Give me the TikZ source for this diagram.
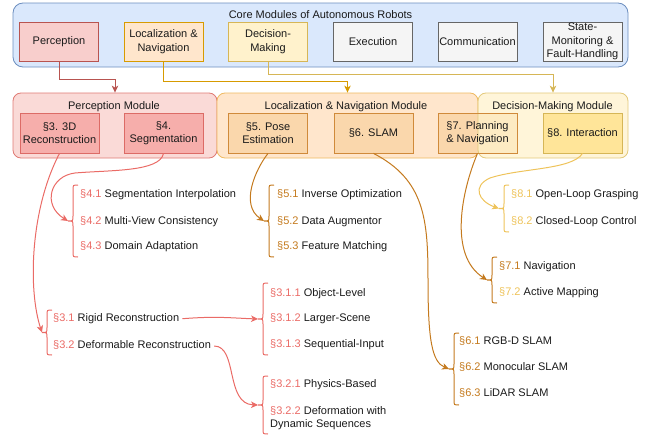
\documentclass[tikz,border=0pt]{standalone}
\usepackage{fontspec}
\setmainfont{Liberation Sans}
\usetikzlibrary{arrows.meta}
\definecolor{coreF}{HTML}{DAE8FC}\definecolor{coreD}{HTML}{6C8EBF}
\definecolor{perF}{HTML}{F8CECC}\definecolor{perD}{HTML}{B85450}
\definecolor{locF}{HTML}{FFE6CC}\definecolor{locD}{HTML}{D79B00}
\definecolor{decF}{HTML}{FFF2CC}\definecolor{decD}{HTML}{D6B656}
\definecolor{gryF}{HTML}{F5F5F5}\definecolor{gryD}{HTML}{666666}
\definecolor{pmF}{HTML}{FADAD7}\definecolor{pmD}{HTML}{E07A74}
\definecolor{s3F}{HTML}{F6AEAB}\definecolor{s3D}{HTML}{DC6B66}
\definecolor{lnF}{HTML}{FFE6CC}\definecolor{lnD}{HTML}{EFB960}
\definecolor{s5F}{HTML}{FAD7AC}\definecolor{s5D}{HTML}{D08A3A}
\definecolor{dmF}{HTML}{FFF2CC}\definecolor{dmD}{HTML}{E3C97A}
\definecolor{s8F}{HTML}{FFE599}\definecolor{s8D}{HTML}{D6B656}
\definecolor{cRed}{HTML}{EA6B66}\definecolor{cBrn}{HTML}{C47A1E}\definecolor{cYel}{HTML}{EEC35A}
\definecolor{txt}{HTML}{1A1A1A}
\newcommand\BraceAt[5]{%
  \pgfmathsetmacro\BrMid{(#4+#5)/2}%
  \coordinate (#2) at (#3,\BrMid);%
  \draw[brc, #1] (#3+10,#4) .. controls (#3+5,#4) .. (#3+5,#4+5) -- (#3+5,\BrMid-5) .. controls (#3+5,\BrMid) .. (#3,\BrMid) .. controls (#3+5,\BrMid) .. (#3+5,\BrMid+5) -- (#3+5,#5-5) .. controls (#3+5,#5) .. (#3+10,#5);%
}
\begin{document}
\begin{tikzpicture}[x=1pt,y=-1pt,
  font=\fontsize{11pt}{13.5pt}\selectfont,
  box/.style={draw, rectangle, minimum width=79pt, minimum height=39pt, inner sep=0.5pt, align=center, line width=0.8pt, text=txt},
  modbox/.style={draw, rectangle, rounded corners=8pt, line width=0.8pt, minimum height=65pt},
  item/.style={anchor=west, inner sep=0pt, text height=8pt, text depth=2.5pt, text=txt},
  conn/.style={line width=1pt, -{Stealth[length=7pt,width=6.5pt,inset=2pt]}},
  brc/.style={line width=1pt},
]
\useasboundingbox (0,0) rectangle (662,439);

% core modules
\node[draw=coreD, fill=coreF, rounded corners=10pt, line width=0.8pt, minimum width=615pt, minimum height=64pt] (core) at (320.5,35) {};
\node[text=txt] (coret) at (320.5,15) {Core Modules of Autonomous Robots};
\node[box, fill=perF, draw=perD] (per) at (59,41.5) {Perception};
\node[box, fill=locF, draw=locD] (loc) at (163.5,41.5) {Localization \&\\Navigation};
\node[box, fill=decF, draw=decD] (dec) at (268,41.5) {Decision-\\Making};
\node[box, fill=gryF, draw=gryD] (exe) at (373,41.5) {Execution};
\node[box, fill=gryF, draw=gryD] (com) at (477.5,41.5) {Communication};
\node[box, fill=gryF, draw=gryD] (stm) at (582.5,41.5) {State-\\Monitoring \&\\Fault-Handling};

% modules
\node[modbox, fill=pmF, draw=pmD, minimum width=204pt] (pm) at (115,125.5) {};
\node[modbox, fill=lnF, draw=lnD, minimum width=261pt] (lnm) at (347.5,125.5) {};
\node[text=txt] (pmt) at (114,107) {Perception Module};
\node[text=txt] (lnt) at (346,107) {Localization \& Navigation Module};
\node[box, minimum height=40pt, fill=s3F, draw=s3D] (s3) at (59.5,133) {§3. 3D\\Reconstruction};
\node[box, minimum height=40pt, fill=s3F, draw=s3D] (s4) at (163.5,133) {§4.\\Segmentation};
\node[box, minimum height=40pt, fill=s5F, draw=s5D] (s5) at (268,133) {§5. Pose\\Estimation};
\node[box, minimum height=40pt, fill=s5F, draw=s5D] (s6) at (373.5,133) {§6. SLAM};
\fill[s5F] (438,113) rectangle (517,153);
\node[modbox, fill=dmF, fill opacity=0.75, draw=dmD, minimum width=150pt] (dmm) at (553,125.5) {};
\node[box, minimum height=40pt, draw=s5D] (s7) at (477.5,133) {§7. Planning\\\& Navigation};
\node[box, minimum height=40pt, fill=s8F, draw=s8D] (s8) at (582.5,133) {§8. Interaction};
\node[text=txt] (dmt) at (552.5,107) {Decision-Making Module};

% top arrows
\draw[conn, color=perD] (per.south) -- ++(0,18) -| (pm.north);
\draw[conn, color=locD] (loc.south) -- ++(0,20) -| (lnm.north);
\draw[conn, color=decD] (dec.south) -- ++(0,13) -| (dmm.north);

% braces
\BraceAt{cRed}{b4}{68}{185}{257}
\BraceAt{cBrn}{b5}{264}{185}{257}
\BraceAt{cYel}{b8}{499}{185}{232}
\BraceAt{cBrn}{b7}{487}{257}{303}
\BraceAt{cBrn}{b6}{449}{333}{405}
\BraceAt{cRed}{b3}{42}{310}{355}
\BraceAt{cRed}{b31}{258}{283}{355}
\BraceAt{cRed}{b32}{258}{376}{434}

% items
\node[item] (r41) at (80,195) {{\color{cRed}§4.1} Segmentation Interpolation};
\node[item] (r42) at (80,222) {{\color{cRed}§4.2} Multi-View Consistency};
\node[item] (r43) at (80,247) {{\color{cRed}§4.3} Domain Adaptation};
\node[item] (r51) at (277,195) {{\color{cBrn}§5.1} Inverse Optimization};
\node[item] (r52) at (277,222) {{\color{cBrn}§5.2} Data Augmentor};
\node[item] (r53) at (277,247) {{\color{cBrn}§5.3} Feature Matching};
\node[item] (r81) at (511,195) {{\color{cYel}§8.1} Open-Loop Grasping};
\node[item] (r82) at (511,222) {{\color{cYel}§8.2} Closed-Loop Control};
\node[item] (r71) at (499,267) {{\color{cBrn}§7.1} Navigation};
\node[item] (r72) at (499,293) {{\color{cYel}§7.2} Active Mapping};
\node[item] (r61) at (459,342) {{\color{cBrn}§6.1} RGB-D SLAM};
\node[item] (r62) at (459,368) {{\color{cBrn}§6.2} Monocular SLAM};
\node[item] (r63) at (459,394) {{\color{cBrn}§6.3} LiDAR SLAM};
\node[item] (r31) at (53,319) {{\color{cRed}§3.1} Rigid Reconstruction};
\node[item] (r32) at (53,346) {{\color{cRed}§3.2} Deformable Reconstruction};
\node[item] (r311) at (270,294) {{\color{cRed}§3.1.1} Object-Level};
\node[item] (r312) at (270,319) {{\color{cRed}§3.1.2} Larger-Scene};
\node[item] (r313) at (270,345) {{\color{cRed}§3.1.3} Sequential-Input};
\node[item] (r321) at (270,385) {{\color{cRed}§3.2.1} Physics-Based};
\node[anchor=west, inner sep=0pt, align=left, text=txt] (r322) at (270,418) {{\color{cRed}§3.2.2} Deformation with\\Dynamic Sequences};

% connectors
\draw[conn, color=cRed] (s3.south) .. controls (30,210) and (28,290) .. (b3);
\draw[conn, color=cRed] (s4.south) .. controls (160,172) and (110,170) .. (75,173) .. controls (50,176) and (42,205) .. (b4);
\draw[conn, color=cBrn] (s5.south) .. controls (255,170) and (240,205) .. (b5);
\draw[conn, color=cBrn] (s6.south) .. controls (425,180) and (428,220) .. (428,280) .. controls (428,340) and (432,362) .. (b6);
\draw[conn, color=cBrn] (s7.south) .. controls (462,190) and (448,255) .. (b7);
\draw[conn, color=cYel] (s8.south) .. controls (572,170) and (520,168) .. (490,178) .. controls (472,186) and (478,201) .. (b8);
\draw[conn, color=cRed, shorten <=3pt] (r31.east) .. controls (215,316) and (232,318) .. (b31);
\draw[conn, color=cRed, shorten <=3pt] (r32.east) .. controls (238,346) and (225,404) .. (b32);
\end{tikzpicture}
\end{document}
